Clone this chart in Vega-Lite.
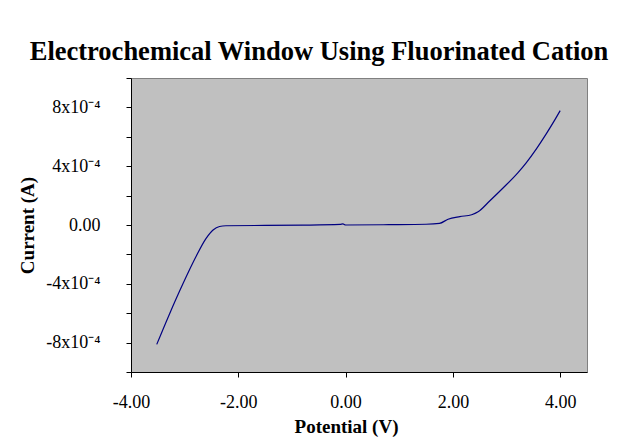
{
  "$schema": "https://vega.github.io/schema/vega-lite/v6.json",
  "width": 456,
  "height": 294,
  "autosize": "none",
  "padding": {"left": 131, "top": 78, "right": 49, "bottom": 71},
  "background": "white",
  "title": {
    "text": "Electrochemical Window Using Fluorinated Cation",
    "font": "Liberation Serif",
    "fontSize": 26.5,
    "fontWeight": "bold",
    "color": "black",
    "anchor": "middle",
    "dx": -40,
    "offset": 4
  },
  "config": {
    "view": {"fill": "#C0C0C0", "stroke": "#808080", "strokeWidth": 1},
    "axis": {
      "labelFont": "Liberation Serif",
      "labelFontSize": 18,
      "labelColor": "black",
      "titleFont": "Liberation Serif",
      "titleFontSize": 19,
      "titleFontWeight": "bold",
      "titleColor": "black",
      "domainColor": "black",
      "tickColor": "black",
      "tickSize": 5,
      "grid": false,
      "labelFlush": false
    }
  },
  "data": {
    "values": [
      {"v": -3.52, "i": -0.000812},
      {"v": -3.28, "i": -0.000603},
      {"v": -3.03, "i": -0.000398},
      {"v": -2.79, "i": -0.000216},
      {"v": -2.60, "i": -0.000091},
      {"v": -2.47, "i": -0.000034},
      {"v": -2.35, "i": -0.000010},
      {"v": -2.23, "i": -0.000005},
      {"v": -1.50, "i": -0.000003},
      {"v": -0.80, "i": -0.000001},
      {"v": -0.10, "i": 0.000004},
      {"v": -0.05, "i": 0.000007},
      {"v": 0.00, "i": 0.000000},
      {"v": 0.80, "i": 0.000002},
      {"v": 1.50, "i": 0.000005},
      {"v": 1.75, "i": 0.000011},
      {"v": 1.91, "i": 0.000039},
      {"v": 2.13, "i": 0.000057},
      {"v": 2.35, "i": 0.000070},
      {"v": 2.47, "i": 0.000090},
      {"v": 2.69, "i": 0.000165},
      {"v": 2.93, "i": 0.000250},
      {"v": 3.21, "i": 0.000355},
      {"v": 3.37, "i": 0.000425},
      {"v": 3.56, "i": 0.000520},
      {"v": 3.74, "i": 0.000620},
      {"v": 3.90, "i": 0.000715},
      {"v": 4.00, "i": 0.000778}
    ]
  },
  "mark": {"type": "line", "color": "#000080", "strokeWidth": 1.2, "interpolate": "monotone"},
  "encoding": {
    "x": {
      "field": "v",
      "type": "quantitative",
      "scale": {"domain": [-4, 4.5], "nice": false, "zero": false},
      "axis": {
        "title": "Potential (V)",
        "values": [-4, -2, 0, 2, 4],
        "labelExpr": "(datum.value < 0 ? '-' : '') + format(abs(datum.value), '.2f')",
        "labelPadding": 16,
        "titleX": 215,
        "titlePadding": 6
      }
    },
    "y": {
      "field": "i",
      "type": "quantitative",
      "scale": {"domain": [-0.001, 0.001], "nice": false, "zero": false},
      "axis": {
        "title": "Current (A)",
        "values": [-0.001, -0.0008, -0.0006, -0.0004, -0.0002, 0, 0.0002, 0.0004, 0.0006, 0.0008, 0.001],
        "labelOverlap": false,
        "labelExpr": "abs(datum.value) < 1e-9 ? '0.00' : (abs(round(datum.value * 10000)) % 4 == 0 && abs(round(datum.value * 10000)) < 10 ? ((datum.value < 0 ? '-' : '') + abs(round(datum.value * 10000)) + 'x10⁻⁴') : '')",
        "labelPadding": 26,
        "titlePadding": 8
      }
    }
  }
}
